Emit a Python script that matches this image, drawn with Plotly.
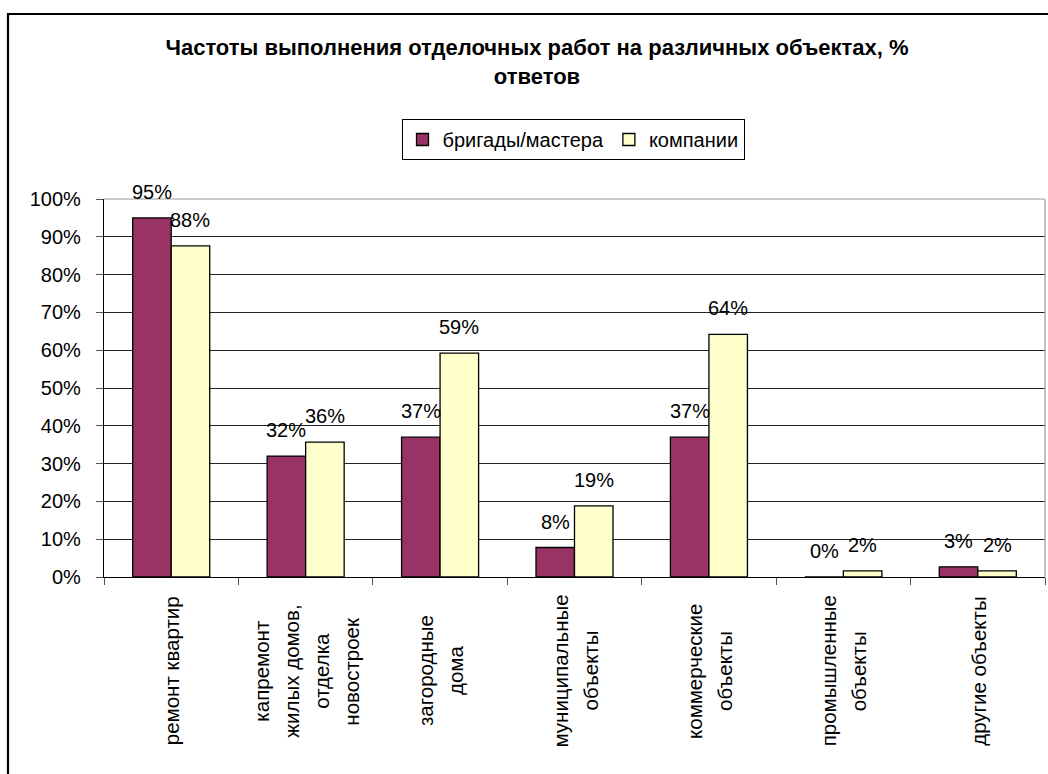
import plotly.graph_objects as go

categories = ["ремонт квартир", "капремонт жилых домов, отделка новостроек", "загородные дома",
              "муниципальные объекты", "коммерческие объекты", "промышленные объекты", "другие объекты"]
category_lines = [
    ["ремонт квартир"],
    ["капремонт", "жилых домов,", "отделка", "новостроек"],
    ["загородные", "дома"],
    ["муниципальные", "объекты"],
    ["коммерческие", "объекты"],
    ["промышленные", "объекты"],
    ["другие объекты"],
]
series_names = ["бригады/мастера", "компании"]
brigades = [0.95, 0.32, 0.37, 0.078, 0.37, 0.0, 0.027]
companies = [0.876, 0.357, 0.592, 0.188, 0.642, 0.016, 0.016]
y_ticks = [0, 0.1, 0.2, 0.3, 0.4, 0.5, 0.6, 0.7, 0.8, 0.9, 1.0]
y_tick_labels = ["0%", "10%", "20%", "30%", "40%", "50%", "60%", "70%", "80%", "90%", "100%"]
title_text = "Частоты выполнения отделочных работ на различных объектах, %<br>ответов"

FONT = "Liberation Sans, Arial, sans-serif"
W, H = 1048, 774
L, R, T, B = 104, 3, 199, 197
plot_w = W - L - R
bargap = 0.427
bar_w_px = plot_w / len(categories) * (1 - bargap) / 2

fig = go.Figure()
fig.add_trace(go.Bar(x=categories, y=brigades, name=series_names[0],
                     marker=dict(color="#993366", line=dict(color="black", width=1.3))))
fig.add_trace(go.Bar(x=categories, y=companies, name=series_names[1],
                     marker=dict(color="#FFFFCC", line=dict(color="black", width=1.3))))

annotations = []
for vals, sh in ((brigades, -bar_w_px / 2), (companies, bar_w_px / 2)):
    for c, v in zip(categories, vals):
        annotations.append(dict(x=c, y=v, xref="x", yref="y", text=f"{round(v * 100):.0f}%",
                                showarrow=False, xshift=sh, yshift=13, yanchor="bottom",
                                font=dict(family=FONT, size=20, color="black")))

line_gap = 30
for c, lines in zip(categories, category_lines):
    n = len(lines)
    for i, t in enumerate(lines):
        annotations.append(dict(x=c, y=(577 - 671) / (H - T - B), xref="x", yref="paper", text=t,
                                showarrow=False, textangle=-90, xshift=(i - (n - 1) / 2) * line_gap,
                                xanchor="center", yanchor="middle",
                                font=dict(family=FONT, size=20.5, color="black")))

ph = H - T - B
shapes = [
    # outer chart border
    dict(type="rect", xref="paper", yref="paper",
         x0=(8 - L) / plot_w, x1=1.2, y0=-1.0, y1=(577 - 14) / ph,
         line=dict(color="black", width=2.2), layer="below"),
    # plot area top and right borders
    dict(type="line", xref="paper", yref="paper", x0=0, x1=1, y0=1, y1=1,
         line=dict(color="#9a9a9a", width=1.2), layer="above"),
    dict(type="line", xref="paper", yref="paper", x0=1, x1=1, y0=0, y1=1,
         line=dict(color="#9a9a9a", width=1.2), layer="above"),
]

fig.update_layout(
    width=W, height=H,
    margin=dict(l=L, r=R, t=T, b=B, pad=0),
    paper_bgcolor="white", plot_bgcolor="white",
    barmode="group", bargap=bargap, bargroupgap=0,
    font=dict(family=FONT, size=20, color="black"),
    title=dict(text=title_text, x=537 / W, xanchor="center", xref="container",
               y=1 - 55 / H, yanchor="top", yref="container",
               font=dict(family=FONT, size=22, color="black", weight="bold")),
    legend=dict(orientation="h", x=(573 - L) / plot_w, xanchor="center",
                y=(577 - 119) / ph, yanchor="top",
                bordercolor="black", borderwidth=1, bgcolor="white",
                font=dict(family=FONT, size=20, color="black"),
                itemwidth=30, tracegroupgap=0),
    showlegend=True,
    annotations=annotations,
    shapes=shapes,
)
fig.update_xaxes(showticklabels=False, ticks="outside", tickson="boundaries", ticklen=7,
                 tickcolor="#555", showline=True, linecolor="black", linewidth=1.2,
                 showgrid=False, zeroline=False)
fig.update_yaxes(range=[0, 1], tickvals=y_ticks, ticktext=y_tick_labels, ticks="outside",
                 ticklen=7, tickcolor="#555", showline=True, linecolor="black", linewidth=1.2,
                 showgrid=True, gridcolor="#222", gridwidth=1, zeroline=False,
                 ticklabelstandoff=11, tickfont=dict(family=FONT, size=20, color="black"))

fig.write_html("out.html")
